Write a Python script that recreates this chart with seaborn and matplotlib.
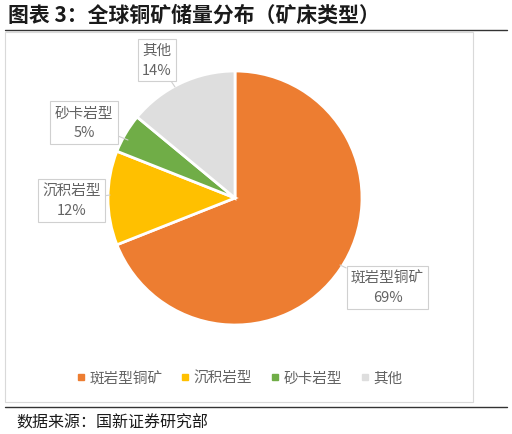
import matplotlib
matplotlib.use("Agg")
import matplotlib.pyplot as plt
import seaborn as sns
from matplotlib.lines import Line2D
from matplotlib.patches import Rectangle

sns.set_theme(style="white")
plt.rcParams['font.family'] = ['Noto Sans CJK SC', 'DejaVu Sans']

# dados
tipos = ["斑岩型铜矿", "沉积岩型", "砂卡岩型", "其他"]
percentuais = [69, 12, 5, 14]
cores = ["#ED7D31", "#FFC000", "#70AD47", "#DEDEDE"]
titulo = "图表 3：全球铜矿储量分布（矿床类型）"
fonte = "数据来源：国新证券研究部"

W, H = 512, 435
fig = plt.figure(figsize=(W / 100, H / 100), dpi=100)

# moldura do gráfico
fig.patches.append(Rectangle((5 / W, 1 - 403 / H), 468 / W, 370 / H, transform=fig.transFigure,
                             fill=False, edgecolor="#D9D9D9", linewidth=0.8))
fig.add_artist(Line2D([5 / W, 507 / W], [1 - 31 / H] * 2, color="#333333", linewidth=1.0))
fig.add_artist(Line2D([5 / W, 507 / W], [1 - 408 / H] * 2, color="#333333", linewidth=1.0))

fig.text(8 / W, 1 - 15 / H, titulo, fontsize=15, fontweight="bold", va="center", ha="left", color="#1a1a1a")
fig.text(16 / W, 1 - 423 / H, fonte, fontsize=11.5, va="center", ha="left", color="#1a1a1a")

# pizza
cx, cy, r = 235, 199, 127
ax = fig.add_axes([(cx - r) / W, (H - cy - r) / H, 2 * r / W, 2 * r / H])
ax.pie(percentuais, colors=cores, startangle=90, counterclock=False, radius=1,
       wedgeprops=dict(edgecolor="white", linewidth=2))
ax.set_xlim(-1, 1)
ax.set_ylim(-1, 1)
ax.axis("off")

def px(x, y):
    return ((x - cx) / r, (cy - y) / r)

# rótulos (caixa, ponta)
rotulos = [
    ((387.5, 288.5), (340, 266)),
    ((71.5, 201.5), (110, 196)),
    ((84, 123.5), (128, 141)),
    ((157, 61), (175, 88)),
]
for (caixa, ponta), t, p in zip(rotulos, tipos, percentuais):
    ax.annotate(f"{t}\n{p}%", xy=px(*ponta), xytext=px(*caixa), ha="center", va="center",
                fontsize=10.5, color="#636363", linespacing=1.5, annotation_clip=False,
                bbox=dict(boxstyle="square,pad=0.3", fc="white", ec="#D0D0D0", lw=0.8),
                arrowprops=dict(arrowstyle="-", color="#D0D0D0", lw=0.8, shrinkA=0, shrinkB=0))

handles = [Line2D([0], [0], marker="s", linestyle="", markersize=5, markerfacecolor=c,
                  markeredgecolor=c) for c in cores]
fig.legend(handles, tipos, loc="center", bbox_to_anchor=(238 / W, 1 - 379 / H), ncol=4,
           frameon=False, fontsize=10.5, handletextpad=0.1, handlelength=1.0,
           columnspacing=1.05, labelcolor="#636363")

fig.savefig("out.png", dpi=100)
